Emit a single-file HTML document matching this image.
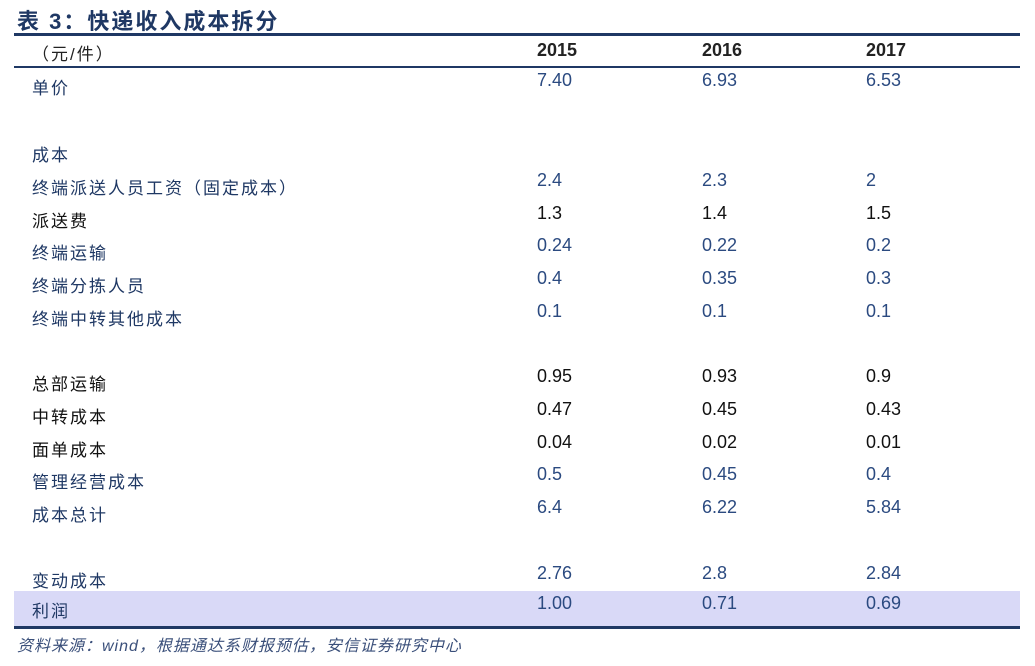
<!DOCTYPE html>
<html><head><meta charset="utf-8"><style>
body{margin:0;width:1035px;height:666px;background:#fff;position:relative;overflow:hidden;font-family:"Liberation Sans","Noto Sans CJK SC",sans-serif;}
.a{position:absolute;white-space:nowrap;}
.lbl{left:32px;font-size:17px;color:#1f3864;letter-spacing:2px;}
.num{font-size:18px;color:#2b4a80;}
.k{color:#111;}
.hd{font-weight:bold;font-size:18px;color:#222;}
</style></head><body>
<div class="a" style="left:17px;top:4px;font-size:22px;font-weight:bold;color:#1f3864;letter-spacing:2px;">表 3：快递收入成本拆分</div>
<div class="a" style="left:14px;top:33px;width:1006px;height:3px;background:#1f3864;"></div>
<div class="a lbl" style="top:40px;color:#222;">（元/件）</div>
<div class="a hd" style="left:537px;top:40px;">2015</div>
<div class="a hd" style="left:702px;top:40px;">2016</div>
<div class="a hd" style="left:866px;top:40px;">2017</div>
<div class="a" style="left:14px;top:66px;width:1006px;height:2px;background:#1f3864;"></div>
<div class="a" style="left:14px;top:591px;width:1006px;height:35px;background:#d9d9f7;"></div>
<div class="a" style="left:14px;top:626px;width:1006px;height:3px;background:#1f3864;"></div>
<div id="rows"></div>
<div class="a" style="left:17px;top:632px;font-size:16px;font-style:italic;color:#3a4f7a;letter-spacing:1px;">资料来源：wind，根据通达系财报预估，安信证券研究中心</div>
<script>
const labels=["单价","成本","终端派送人员工资（固定成本）","派送费","终端运输","终端分拣人员","终端中转其他成本","总部运输","中转成本","面单成本","管理经营成本","成本总计","变动成本","利润"];
const v2015=["7.40","","2.4","1.3","0.24","0.4","0.1","0.95","0.47","0.04","0.5","6.4","2.76","1.00"];
const v2016=["6.93","","2.3","1.4","0.22","0.35","0.1","0.93","0.45","0.02","0.45","6.22","2.8","0.71"];
const v2017=["6.53","","2","1.5","0.2","0.3","0.1","0.9","0.43","0.01","0.4","5.84","2.84","0.69"];
const tops=[70,137,170,203,235,268,301,366,399,432,464,497,563,593];
const black=[false,false,false,true,false,false,false,true,true,true,false,false,false,false];
const root=document.getElementById('rows');
const cols=[[537,v2015],[702,v2016],[866,v2017]];
labels.forEach((l,i)=>{
 const d=document.createElement('div');
 d.className='a lbl'+(black[i]?' k':'');
 d.style.top=(tops[i]+4)+'px';
 d.textContent=l;
 
 
 root.appendChild(d);
 cols.forEach(([x,arr])=>{
  if(!arr[i])return;
  const n=document.createElement('div');
  n.className='a num'+(black[i]?' k':'');
  n.style.left=x+'px';n.style.top=tops[i]+'px';
  n.textContent=arr[i];
  
  
  root.appendChild(n);
 });
});
</script>
</body></html>
